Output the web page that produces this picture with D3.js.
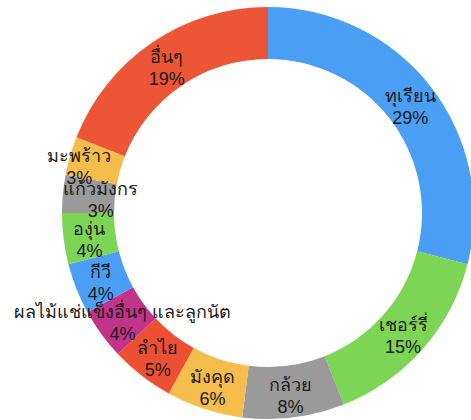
<!DOCTYPE html>
<html>
<head>
<meta charset="utf-8">
<script src="https://cdn.jsdelivr.net/npm/d3@7"></script>
<style>
  body { margin: 0; background: #fff; }
  text { font-family: "Liberation Sans", Arial, "Noto Sans", sans-serif; }
</style>
</head>
<body>
<div id="chart"></div>
<script>
var names = ['ทุเรียน', 'เชอร์รี่', 'กล้วย', 'มังคุด', 'ลำไย',
    'ผลไม้แช่แข็งอื่นๆ และลูกนัต', 'กีวี', 'องุ่น', 'แก้วมังกร', 'มะพร้าว', 'อื่นๆ'];
var shares = [29, 15, 8, 6, 5, 4, 4, 4, 3, 3, 19];
var colors = ['#4a9ff5', '#7dd555', '#9a9a9a', '#f4bd4c', '#ec4f31',
    '#c2338a', '#4a9ff5', '#7dd555', '#9a9a9a', '#f4bd4c', '#ec5535'];

var width = 471, height = 420;
var cx = 268, cy = 213;
var outer = 206, inner = 154;

var svg = d3.select('#chart').append('svg')
    .attr('width', width)
    .attr('height', height)
    .append('g')
        .attr('transform', 'translate(' + cx + ',' + cy + ')');

var pie = d3.pie().sort(null).value(function(d) { return d; });
var arc = d3.arc().innerRadius(inner).outerRadius(outer);
var arcs = pie(shares);

svg.selectAll('path.slice')
    .data(arcs)
    .enter()
    .append('path')
    .attr('class', 'slice')
    .attr('d', arc)
    .attr('fill', function(d, i) { return colors[i]; });

// the two thin slices on the left get pushed sideways so their labels
// don't sit right on top of each other (HACK: picked by eye)
function nudge(i) {
    if(i == 9) return -16;
    if(i == 8) return 12;
    return 0;
}

// labels: name over percentage, centred on slice centroid
var labels = svg.selectAll('text.label')
    .data(arcs)
    .enter()
    .append('text')
    .attr('class', 'label')
    .attr('transform', function(d, i) {
        var c = arc.centroid(d);
        return 'translate(' + (c[0] + nudge(i)) + ',' + c[1] + ')';
    })
    .style('text-anchor', 'middle')
    .style('font-size', '18px')
    .attr('fill', '#1a1a1a');
labels.append('tspan')
    .attr('x', 0)
    .attr('y', -1)
    .text(function(d, i) { return names[i]; });
labels.append('tspan')
    .attr('x', 0)
    .attr('y', 21)
    .text(function(d, i) { return shares[i] + '%'; });
</script>
</body>
</html>
